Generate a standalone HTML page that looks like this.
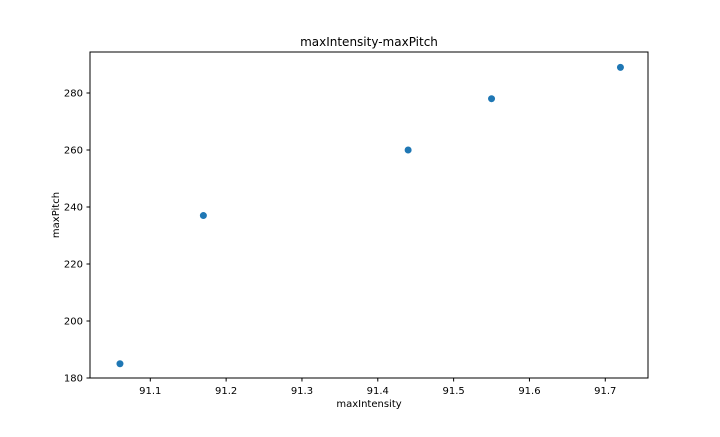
<!DOCTYPE html>
<html><head><meta charset="utf-8"><style>
body{margin:0;background:#fff;width:720px;height:432px;overflow:hidden}
text{font-family:"DejaVu Sans","Liberation Sans",sans-serif;fill:#000}
</style></head><body>
<svg id="chart" width="720" height="432" xmlns="http://www.w3.org/2000/svg">
<text x="369" y="46" font-size="12" text-anchor="middle">maxIntensity-maxPitch</text>
<g id="ticks"></g>
<g id="points"></g>
<rect x="90" y="52" width="558" height="326" fill="none" stroke="#000" stroke-width="1"/>
<text x="369" y="407" font-size="10" text-anchor="middle">maxIntensity</text>
<text x="59" y="215" font-size="10" text-anchor="middle" transform="rotate(-90 59 215)">maxPitch</text>
</svg>
<script>
const xValues=[91.06,91.17,91.44,91.55,91.72];
const yValues=[185,237,260,278,289];
const xTicks=[91.1,91.2,91.3,91.4,91.5,91.6,91.7];
const yTicks=[180,200,220,240,260,280];
const NS="http://www.w3.org/2000/svg";
function sx(v){return 150.3+(v-91.1)*758.3;}
function sy(v){return 378-(v-180)*2.85;}
const tg=document.getElementById('ticks'),pg=document.getElementById('points');
function mk(tag,attrs,parent){const e=document.createElementNS(NS,tag);for(const k in attrs)e.setAttribute(k,attrs[k]);parent.appendChild(e);return e;}
xTicks.forEach(t=>{const x=sx(t);
 const l=mk('line',{x1:x,x2:x,y1:378,y2:381.5,stroke:'#000'},tg);
 
 
 const tx=mk('text',{x:x,y:394,'font-size':10,'text-anchor':'middle'},tg);tx.textContent=t.toFixed(1);
 
 
});
yTicks.forEach(t=>{const y=sy(t);
 const l=mk('line',{x1:86.5,x2:90,y1:y,y2:y,stroke:'#000'},tg);
 
 
 const tx=mk('text',{x:83,y:y+3.5,'font-size':10,'text-anchor':'end'},tg);tx.textContent=t;
 
 
});
xValues.forEach((v,i)=>{
 const c=mk('circle',{cx:sx(v),cy:sy(yValues[i]),r:3.5,fill:'#1f77b4'},pg);
 
 
});
</script>
</body></html>
